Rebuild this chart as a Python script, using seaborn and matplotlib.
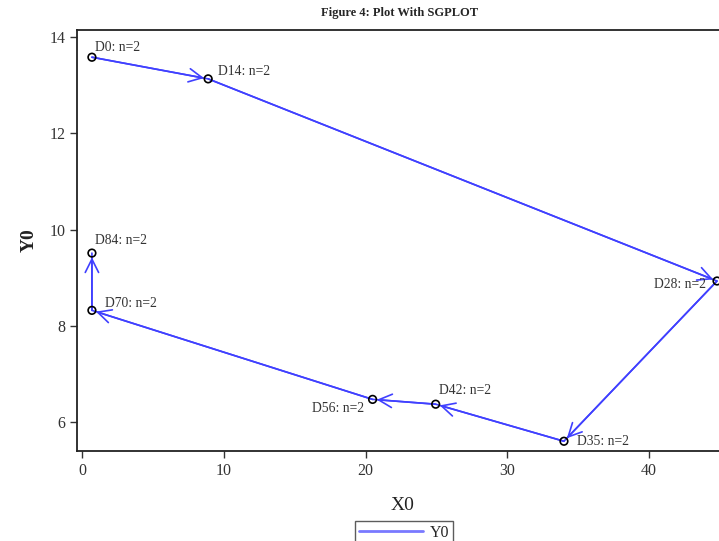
import matplotlib
matplotlib.use("Agg")
import matplotlib.pyplot as plt
import seaborn as sns
import pandas as pd

# ---- data ----
visits = ["D0", "D14", "D28", "D35", "D42", "D56", "D70", "D84"]
x0 = [0.7, 8.9, 44.8, 34.0, 24.95, 20.5, 0.7, 0.7]
y0 = [13.58, 13.13, 8.93, 5.60, 6.37, 6.47, 8.32, 9.51]
n_counts = [2, 2, 2, 2, 2, 2, 2, 2]
x_ticks = [0, 10, 20, 30, 40]
y_ticks = [6, 8, 10, 12, 14]

df = pd.DataFrame({"X0": x0, "Y0": y0, "visit": visits, "n": n_counts})

# label placement (pixel offsets, alignment)
label_style = [(3, 10, "left"), (10, 7, "left"), (-11, -4, "right"), (13, 0, "left"),
               (3, 14, "left"), (-8, -9, "right"), (13, 7, "left"), (3, 13, "left")]

sns.set_theme(style="ticks")
plt.rcParams["font.family"] = ["Liberation Serif", "DejaVu Serif"]

LINE = "#4040ff"
fig = plt.figure(figsize=(7.19, 5.41), dpi=100)
ax = fig.add_axes([77 / 719, 1 - 451 / 541, (729 - 77) / 719, (451 - 30) / 541])

sns.lineplot(data=df, x="X0", y="Y0", sort=False, color=LINE, lw=1.2,
             estimator=None, ax=ax, label="Y0", zorder=2, legend=False)
sns.scatterplot(data=df, x="X0", y="Y0", marker="o", s=30, facecolor="none",
                edgecolor="black", linewidth=1.2, ax=ax, zorder=3, legend=False)

for i in range(1, len(df)):
    ax.annotate("", xy=(df.X0[i], df.Y0[i]), xytext=(df.X0[i - 1], df.Y0[i - 1]),
                arrowprops=dict(arrowstyle="->,head_length=0.8,head_width=0.4",
                                color=LINE, lw=1.2, shrinkA=0, shrinkB=3),
                zorder=2)

for i, row in df.iterrows():
    dx, dy, ha = label_style[i]
    ax.annotate(f"{row.visit}: n={row.n}", (row.X0, row.Y0), xytext=(dx, dy),
                textcoords="offset pixels", ha=ha, va="center", fontsize=9.8,
                color="#333333")

ax.set_xlim((77 - 82) / 14.175, (729 - 82) / 14.175)
ax.set_ylim(14 - (451 - 37) / 48.125, 14 + (37 - 30) / 48.125)
ax.set_xticks(x_ticks)
ax.set_yticks(y_ticks)
ax.tick_params(axis="both", labelsize=11.5, length=5, width=1, color="#333333",
               labelcolor="#333333", direction="out")
for s in ["left", "bottom", "top"]:
    ax.spines[s].set_color("#222222")
    ax.spines[s].set_linewidth(1.3)
ax.spines["right"].set_visible(False)

ax.set_xlabel("X0", fontsize=14, labelpad=13, color="#222222")
ax.set_ylabel("Y0", fontsize=14, fontweight="bold", labelpad=8, color="#222222")

fig.text(400 / 719, 1 - 13 / 541, "Figure 4: Plot With SGPLOT", ha="center",
         va="center", fontsize=9, fontweight="bold")

handles, labels = ax.get_legend_handles_labels()
leg = fig.legend(handles, labels, loc="upper center",
                 bbox_to_anchor=(404 / 719, 1 - 521 / 541), borderaxespad=0,
                 frameon=True, fancybox=False, fontsize=11.5, handlelength=4,
                 borderpad=0.25, handletextpad=0.4, edgecolor="#333333")
leg.get_frame().set_linewidth(1.0)
for h in leg.get_lines():
    h.set_linewidth(2)
    h.set_alpha(0.7)

fig.savefig("out.png", dpi=100)
